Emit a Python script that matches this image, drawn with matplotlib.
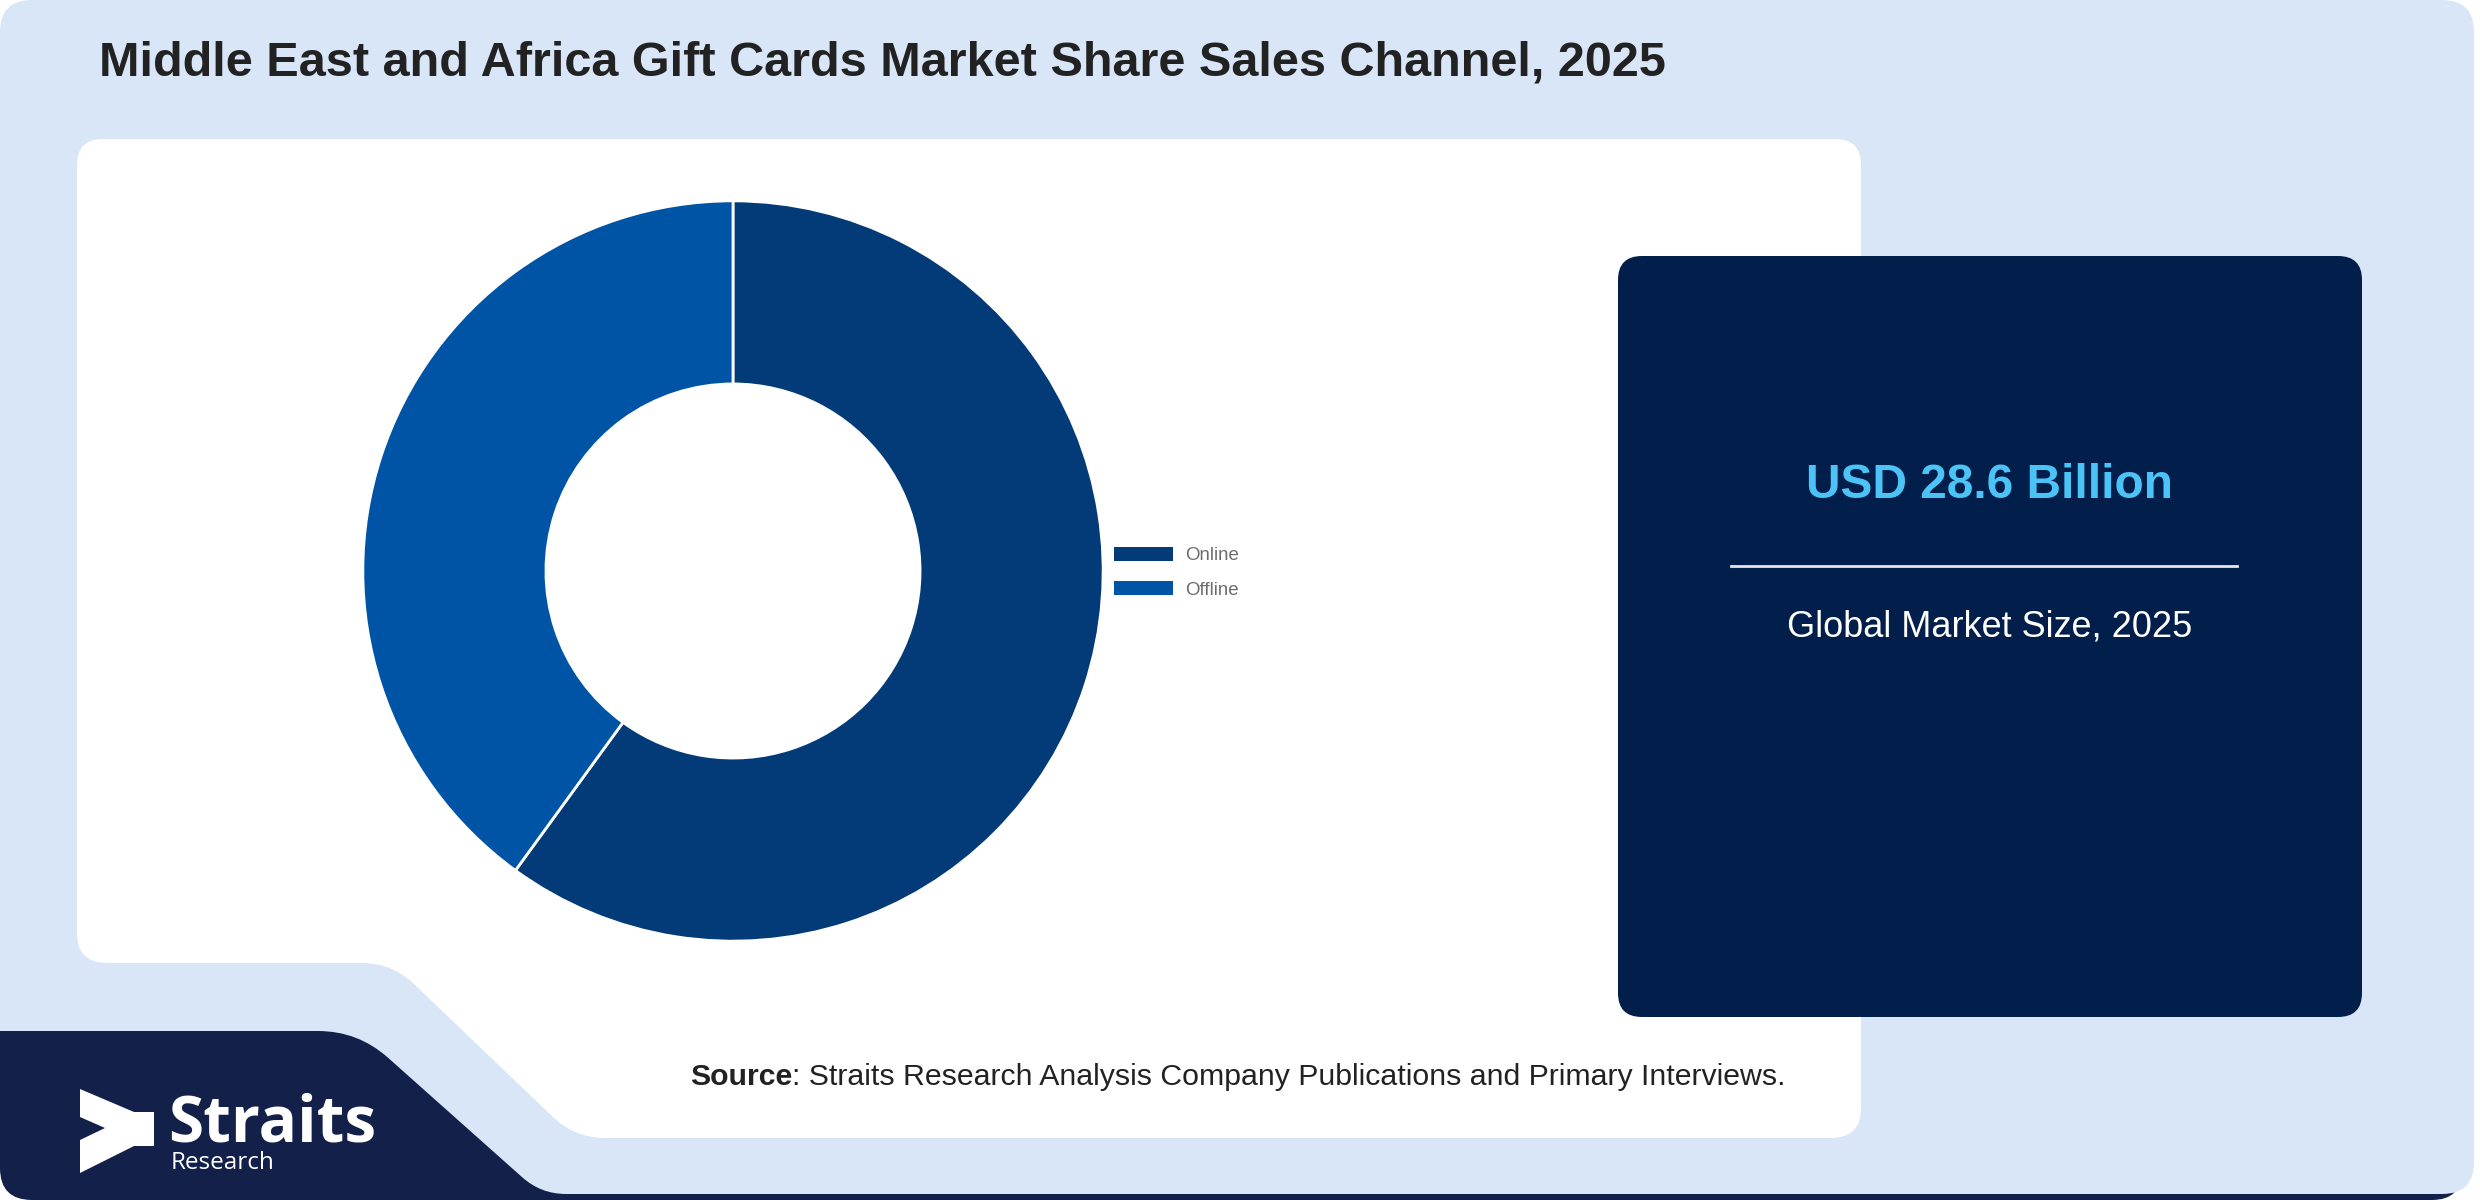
import numpy as np
import matplotlib
matplotlib.use("Agg")
import matplotlib.pyplot as plt
from matplotlib.path import Path
from matplotlib.patches import PathPatch, Polygon, Patch

channels = ["Online", "Offline"]
shares = [60.0, 40.0]
channel_colors = ["#033b79", "#0054a6"]

title = "Middle East and Africa Gift Cards Market Share Sales Channel, 2025"
market_value = "USD 28.6 Billion"
market_label = "Global Market Size, 2025"
source_bold = "Source"
source_rest = ": Straits Research Analysis Company Publications and Primary Interviews."

W, H = 2480, 1200
LIGHT = "#d9e6f8"
NAVY_LOGO = "#13204a"
NAVY_BOX = "#011f4a"

plt.rcParams["font.family"] = ["Liberation Sans", "DejaVu Sans"]


def rounded_path(pts, radii):
    # polygon with quadratic-bezier rounded corners
    n = len(pts)
    verts, codes = [], []
    for i in range(n):
        p0 = np.array(pts[i - 1], float)
        p1 = np.array(pts[i], float)
        p2 = np.array(pts[(i + 1) % n], float)
        r = radii[i]
        l1 = np.linalg.norm(p0 - p1)
        l2 = np.linalg.norm(p2 - p1)
        a = p1 + (p0 - p1) / l1 * min(r, l1 / 2)
        b = p1 + (p2 - p1) / l2 * min(r, l2 / 2)
        verts.append(a)
        codes.append(Path.MOVETO if i == 0 else Path.LINETO)
        verts += [p1, b]
        codes += [Path.CURVE3, Path.CURVE3]
    verts.append(verts[0])
    codes.append(Path.CLOSEPOLY)
    return Path(verts, codes)


def rrect(x0, y0, x1, y1, r):
    return rounded_path([(x0, y0), (x1, y0), (x1, y1), (x0, y1)], [r] * 4)


fig = plt.figure(figsize=(24.8, 12), dpi=100, facecolor="white")
bg = fig.add_axes([0, 0, 1, 1])
bg.set_xlim(0, W)
bg.set_ylim(H, 0)
bg.axis("off")

# bottom shadow strip, card, white panel
bg.add_patch(PathPatch(rrect(300, 1120, 2462, 1200, 30), fc=NAVY_LOGO, ec="none"))
bg.add_patch(PathPatch(rrect(0, 0, 2474, 1194, 32), fc=LIGHT, ec="none"))
panel = [(77, 139), (1861, 139), (1861, 1138), (575, 1138), (392, 963), (77, 963)]
bg.add_patch(PathPatch(rounded_path(panel, [26, 26, 30, 30, 30, 30]), fc="white", ec="none"))

# logo band
logo_band = [(0, 1031), (358, 1031), (541, 1194), (700, 1194), (700, 1200), (0, 1200)]
bg.add_patch(PathPatch(rounded_path(logo_band, [0, 40, 25, 0, 0, 32]), fc=NAVY_LOGO, ec="none"))
icon = [(80, 1089), (134, 1112), (154, 1112), (154, 1146), (134, 1146),
        (80, 1173), (80, 1140), (105, 1128), (80, 1117)]
bg.add_patch(Polygon(icon, closed=True, fc="white", ec="none"))
bg.text(168, 1142, "Straits", color="white", fontsize=46, fontweight="bold",
        family=["Open Sans", "DejaVu Sans"], va="baseline", ha="left")
bg.text(171, 1169, "Research", color="white", fontsize=17.5,
        family=["Open Sans", "DejaVu Sans"], va="baseline", ha="left")

# info box
bg.add_patch(PathPatch(rrect(1618, 256, 2362, 1017, 24), fc=NAVY_BOX, ec="none"))
bg.text(1990, 485, market_value, color="#4cc3f6", fontsize=34.5, fontweight="bold",
        ha="center", va="center")
bg.plot([1731, 2237], [566, 566], color="#e6e6e6", lw=2)
bg.text(1990, 627, market_label, color="white", fontsize=26, ha="center", va="center")

# title & source
bg.text(99, 63, title, color="#222222", fontsize=35, fontweight="bold", ha="left", va="center")
t1 = bg.text(690, 1077, source_bold, color="#222222", fontsize=21.8, fontweight="bold",
             ha="left", va="center")
bg.annotate(source_rest, xy=(1, 0), xycoords=t1, color="#222222", fontsize=21.8,
            ha="left", va="bottom")

# donut
cx, cy, r_out, r_in = 733, 571, 372, 188
ax = fig.add_axes([(cx - r_out) / W, (H - cy - r_out) / H, 2 * r_out / W, 2 * r_out / H])
wedges, _ = ax.pie(shares, colors=channel_colors, startangle=90, counterclock=False,
                   radius=1.0, wedgeprops=dict(width=(r_out - r_in) / r_out,
                                               edgecolor="white", linewidth=2))
ax.set_xlim(-1.005, 1.005)
ax.set_ylim(-1.005, 1.005)
ax.axis("off")

handles = [Patch(facecolor=c, edgecolor="none") for c in channel_colors]
fig.legend(handles, channels, loc="upper left", bbox_to_anchor=(1114 / W, 1 - 547 / H),
           bbox_transform=fig.transFigure, frameon=False, fontsize=13.4,
           handlelength=3.17, handleheight=0.78, handletextpad=0.65,
           labelspacing=0.9, borderpad=0, borderaxespad=0, labelcolor="#6b6b6b")

fig.savefig("out.png", dpi=100, facecolor="white")
